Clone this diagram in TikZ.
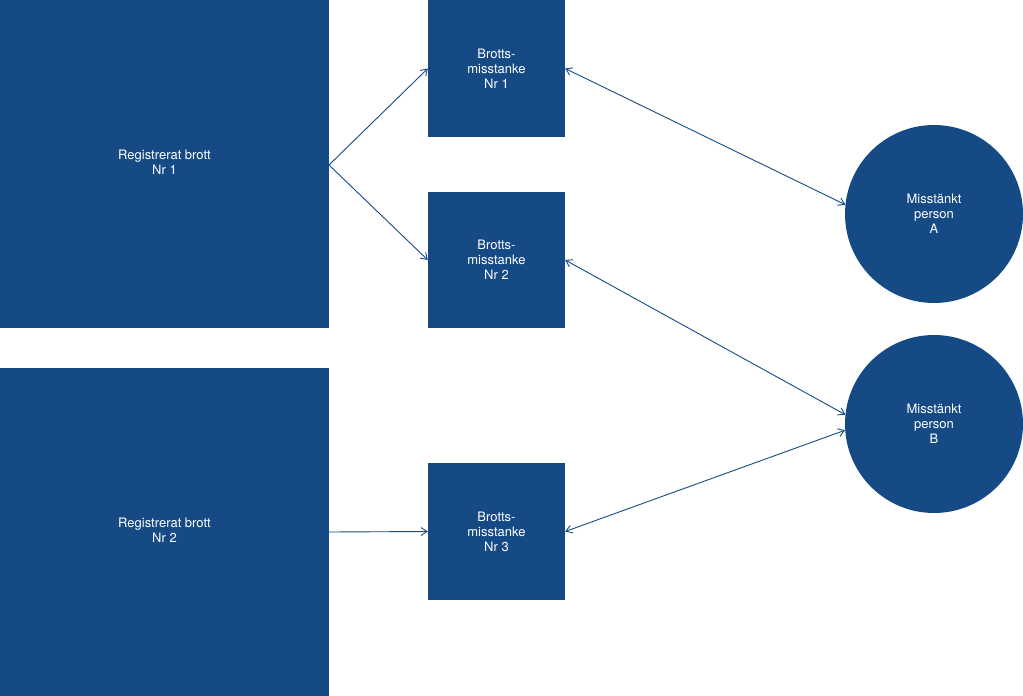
\documentclass[tikz,border=0pt]{standalone}
\usepackage{fontspec}
\setmainfont{TeX Gyre Heros}
\usetikzlibrary{arrows.meta}
\definecolor{nb}{HTML}{164A84}
\begin{document}
\begin{tikzpicture}[x=1pt,y=-1pt,
  box/.style={fill=nb,draw=none,text=white,align=center,font=\fontsize{13}{15}\selectfont},
  circ/.style={circle,fill=nb,draw=none,text=white,align=center,minimum size=178pt,inner sep=0pt,font=\fontsize{13}{15}\selectfont},
  conn/.style={draw=nb,line width=0.9pt,-{Straight Barb[length=6pt,width=8pt]}},
  dconn/.style={draw=nb,line width=0.9pt,{Straight Barb[length=6pt,width=8pt]}-{Straight Barb[length=6pt,width=8pt]}}]
\useasboundingbox (0,0) rectangle (1023,696);
\path[box] (0,0) rectangle (329,328);
\node[text=white,align=center,font=\fontsize{13}{15}\selectfont] (r1) at (164.5,162) {Registrerat brott\\Nr 1};
\path[box] (0,368) rectangle (329,696);
\node[text=white,align=center,font=\fontsize{13}{15}\selectfont] (r2) at (164.5,530) {Registrerat brott\\Nr 2};
\node[box,minimum width=137pt,minimum height=137pt] (b1) at (496.5,68.5) {Brotts-\\misstanke\\Nr 1};
\node[box,minimum width=137pt,minimum height=136pt] (b2) at (496.5,260) {Brotts-\\misstanke\\Nr 2};
\node[box,minimum width=137pt,minimum height=137pt] (b3) at (496.5,531.5) {Brotts-\\misstanke\\Nr 3};
\node[circ] (A) at (934,214) {Misstänkt\\person\\A};
\node[circ] (B) at (934,424) {Misstänkt\\person\\B};
\coordinate (o1) at (329,165);
\coordinate (o2) at (329,532);
\draw[conn] (o1) -- (b1.west);
\draw[conn] (o1) -- (b2.west);
\draw[conn] (o2) -- (b3.west);
\draw[dconn] (b1.east) -- (A.174);
\draw[dconn] (b2.east) -- (B.174);
\draw[dconn] (b3.east) -- (B.184);
\end{tikzpicture}
\end{document}
